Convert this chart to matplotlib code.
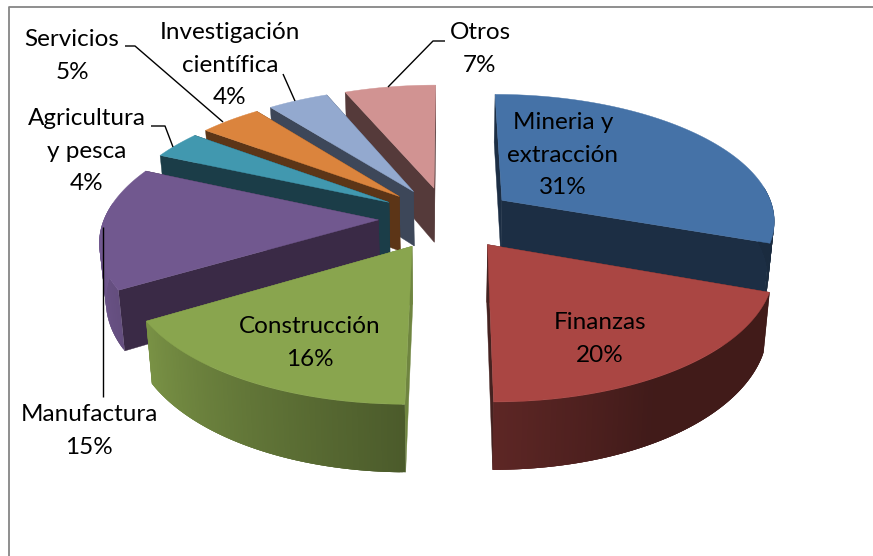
import matplotlib
matplotlib.use("Agg")
import matplotlib.pyplot as plt
import numpy as np
from matplotlib.colors import to_rgb
from matplotlib.patches import Polygon

# slices, clockwise from the top
sectors = ["Mineria y\nextracción", "Finanzas", "Construcción", "Manufactura",
           "Agricultura\ny pesca", "Servicios", "Investigación\ncientífica", "Otros"]
shares = [30.5, 19.55, 16.35, 15.3, 3.5, 4.3, 4.2, 6.3]
pct_labels = ["31%", "20%", "16%", "15%", "4%", "5%", "4%", "7%"]

top_colors = ["#4572A7", "#AA4643", "#89A54E", "#71588F", "#4198AF", "#DB843D", "#93A9CF", "#D19392"]
wall_colors = ["#1C2E44", "#452220", "#6F8540", "#3A2A46", "#1B3D48", "#5C3517", "#3D4759", "#553A3A"]

# label centre for each sector, pixels
label_pos = [(563, 155), (600, 339), (310, 343), (89, 431), (87, 151), (72, 56), (230, 65), (480, 49)]
# leader lines, pixels (none for labels sitting on their slice)
leaders = [None, None, None,
           [(103, 227), (103, 397)],
           [(151, 126), (165, 126), (173, 147)],
           [(125, 46), (135, 46), (223, 122)],
           [(283, 74), (295, 101)],
           [(445, 41), (433, 41), (388, 87)]]

draw_order = [7, 6, 5, 4, 0, 3, 2, 1]

# fake 3D camera
cx, cy = 447, 218
rad_x, rad_y = 274, 126
persp = 0.145
height = 56
explode = 0.25


def project(u, v, z=0.0):
    den = 1 + persp * v
    x = cx + rad_x * u / den * (1 - 0.019 * z)
    y = cy - rad_y * v / den + height * z / den
    return np.column_stack([x, y])


def rim_shade(deg):
    return np.interp(deg, [100, 150, 180, 238, 270], [0.38, 0.38, 0.55, 0.88, 1.0])


def draw_slice(ax, start, end, top_col, wall_col):
    mid = np.radians((start + end) / 2)
    eu, ev = explode * np.sin(mid), explode * np.cos(mid)
    deg = np.linspace(start, end, max(int(end - start) * 2, 4))
    t = np.radians(deg)
    u, v = eu + np.sin(t), ev + np.cos(t)

    # radial walls
    for i in (0, -1):
        uu = np.array([eu, u[i]])
        vv = np.array([ev, v[i]])
        a = project(uu, vv)
        b = project(uu, vv, 1)
        ax.add_patch(Polygon(np.vstack([a, b[::-1]]), fc=wall_col, ec=wall_col, lw=0.3))

    # outer wall, only the part looking to the viewer
    # every strip runs under the next one so no seams show
    rgb = np.array(to_rgb(top_col))
    top_edge = project(u, v)
    low_edge = project(u, v, 1)
    n = len(deg)
    for i in range(n - 1):
        if np.cos(t[i]) > 0.12:
            continue
        j = min(i + 3, n - 1)
        col = rgb * rim_shade(deg[i])
        strip = np.vstack([top_edge[i:j + 1], low_edge[i:j + 1][::-1]])
        ax.add_patch(Polygon(strip, fc=col, ec="none", lw=0))

    # top face
    apex = project(np.array([eu]), np.array([ev]))
    ax.add_patch(Polygon(np.vstack([apex, top_edge]), fc=top_col, ec=top_col, lw=0.3))


fig = plt.figure(figsize=(8.73, 5.56), dpi=100)
ax = fig.add_axes([0, 0, 1, 1])
ax.set_xlim(0, 873)
ax.set_ylim(556, 0)
ax.axis("off")

# chart frame, runs off the picture on the right and bottom
ax.plot([9, 9, 880], [560, 6.5, 6.5], color="#868686", lw=1.3)

angles = np.concatenate([[0], np.cumsum(shares) / np.sum(shares) * 360])
for i in draw_order:
    draw_slice(ax, angles[i], angles[i + 1], top_colors[i], wall_colors[i])

for path in leaders:
    if path is not None:
        xs, ys = zip(*path)
        ax.plot(xs, ys, color="black", lw=1.0, solid_capstyle="butt")

for name, pct, pos in zip(sectors, pct_labels, label_pos):
    ax.text(pos[0], pos[1], name + "\n" + pct, ha="center", va="center", multialignment="center",
            fontsize=17.5, family="Lato", linespacing=1.65, color="black")

fig.savefig("out.png", dpi=100)
